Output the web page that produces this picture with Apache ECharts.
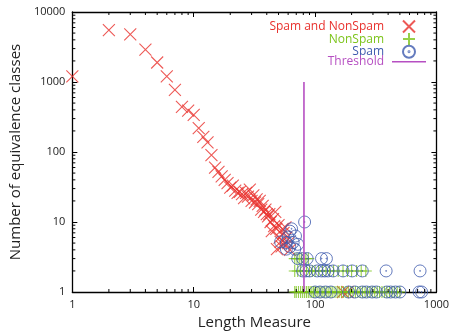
<!DOCTYPE html>
<html><head><meta charset="utf-8">
<script src="https://cdn.jsdelivr.net/npm/echarts@6/dist/echarts.min.js"></script>
<style>html,body{margin:0;padding:0;background:#fff}#c{width:452px;height:335px}</style>
</head><body><div id="c"></div>
<script>
// Spam and NonSpam (red crosses)
const bothLen = [1,2,3,4,5,6,7,8,9,10,11,12,13,14,15,16,17,18,19,20,21,22,23,24,25,26,27,28,29,30,31,32,33,34,35,36,37,38,39,40,41,42,43,44,45,46,47,48,48.5,50,51,52,53,54,55,56,57,58,60,62,170,185];
const bothCnt = [1200,5500,4800,2900,1900,1200,770,440,390,340,220,165,137,90,60,52,45,40,36,31,33,28,26,27,25,22,26,23,29,20,24,19,21,18,20,15,17,14,15,13,12,13,10,7.4,11,8.7,14,8,4.1,9,6,5.2,4.5,8,7,5,8.4,6,5,4,1,1];
// NonSpam (green plus)
const nonLen = [68,71,74,77,80,84,88,
  68,72,76,80,85,90,95,100,107,115,123,132,142,155,170,185,200,220,240,262,
  68,70,73,76,79,82,85,88,91,94,97,100,104,108,112,116,120,125,130,135,140,146,152,158,165,172,180,188,196,205,215,225,235,246,258,270,283,296,310,325,340,356,373,390,410,430,450,475,500,525];
const nonCnt = [3,3,3,3,3,3,3,
  2,2,2,2,2,2,2,2,2,2,2,2,2,2,2,2,2,2,2,2,
  1,1,1,1,1,1,1,1,1,1,1,1,1,1,1,1,1,1,1,1,1,1,1,1,1,1,1,1,1,1,1,1,1,1,1,1,1,1,1,1,1,1,1,1,1,1,1,1,1];
// Spam (blue circles)
const spamLen = [82,64,62,60,69,58,66,72,62,68,58,52,
  72,79,86,113,124,
  79,84,90,104,113,120,128,141,170,202,245,385,733,
  100,110,122,135,189,213,245,265,295,320,390,420,460,500,720,755];
const spamCnt = [10,8,7.4,6.1,6.3,5.1,5.1,4.8,4.4,4.1,4.1,5.2,
  3,3,3,3,3,
  2,2,2,2,2,2,2,2,2,2,2,2,2,
  1,1,1,1,1,1,1,1,1,1,1,1,1,1,1,1];
// Threshold
const thresholdLen = [81,81];
const thresholdCnt = [1,1000];
// Axis ticks
const xMinorTicks = [2,3,4,5,6,7,8,9,20,30,40,50,60,70,80,90,200,300,400,500,600,700,800,900];
const yMinorTicks = [2,3,4,5,6,7,8,9,20,30,40,50,60,70,80,90,200,300,400,500,600,700,800,900,2000,3000,4000,5000,6000,7000,8000,9000];
const legendNames = ['Spam and NonSpam','NonSpam','Spam','Threshold'];

const RED = '#e8302c', GREEN = '#7cc41a', BLUE = '#3d5aae', PURPLE = '#b64fc2';
const FONT = 'Open Sans';
const zip = (a, b) => a.map((v, i) => [v, b[i]]);
const XMIN = 1, XMAX = 1000, YMIN = 1, YMAX = 10000;

const crossPath = 'path://M0,0L10,10M0,10L10,0';
const plusPath = 'path://M5,0L5,10M0,5L10,5';
const circPath = 'path://M0,5A5,5 0 1,1 10,5A5,5 0 1,1 0,5Z M4.6,5A0.4,0.4 0 1,1 5.4,5A0.4,0.4 0 1,1 4.6,5Z';
const linePath = 'path://M0,0H34V1.6H0Z';

function tickSeries(values, isX) {
  return {
    type: 'custom', silent: true, clip: false, z: 10,
    data: values.map(v => isX ? [v, YMIN] : [XMIN, v]),
    renderItem: function (params, api) {
      const v = api.value(isX ? 0 : 1);
      const a = isX ? api.coord([v, YMIN]) : api.coord([XMIN, v]);
      const b = isX ? api.coord([v, YMAX]) : api.coord([XMAX, v]);
      const L = 3, st = {stroke: '#000', lineWidth: 1};
      return {type: 'group', children: isX ? [
        {type: 'line', shape: {x1: a[0], y1: a[1], x2: a[0], y2: a[1] - L}, style: st},
        {type: 'line', shape: {x1: b[0], y1: b[1], x2: b[0], y2: b[1] + L}, style: st}
      ] : [
        {type: 'line', shape: {x1: a[0], y1: a[1], x2: a[0] + L, y2: a[1]}, style: st},
        {type: 'line', shape: {x1: b[0], y1: b[1], x2: b[0] - L, y2: b[1]}, style: st}
      ]};
    }
  };
}

const axisCommon = {
  type: 'log', logBase: 10,
  axisLine: {show: true, lineStyle: {color: '#000', width: 1.3}},
  axisTick: {show: true, inside: true, length: 5, lineStyle: {color: '#000', width: 1}},
  splitLine: {show: false}, minorTick: {show: false}
};
const plainNum = v => String(Math.round(v));

const chart = echarts.init(document.getElementById('c'), null, {renderer: 'canvas'});
chart.setOption({
  animation: false,
  backgroundColor: '#fff',
  textStyle: {fontFamily: FONT},
  grid: {left: 59, right: 12, top: 12, bottom: 42, containLabel: false},
  legend: {
    orient: 'vertical', right: 26, top: 18, align: 'right',
    itemWidth: 34, itemHeight: 12, itemGap: -4.4, padding: 0,
    textStyle: {fontFamily: FONT, fontSize: 12, lineHeight: 12, padding: [0, 3, 0, 0]},
    data: [
      {name: legendNames[0], textStyle: {color: RED}},
      {name: legendNames[1], textStyle: {color: GREEN}},
      {name: legendNames[2], textStyle: {color: BLUE}},
      {name: legendNames[3], icon: linePath, itemStyle: {color: PURPLE, borderWidth: 0}, textStyle: {color: PURPLE}}
    ],
    selectedMode: false
  },
  xAxis: [
    Object.assign({}, axisCommon, {
      position: 'bottom', min: XMIN, max: XMAX,
      name: 'Length Measure', nameLocation: 'middle', nameGap: 23,
      nameTextStyle: {fontFamily: FONT, fontSize: 15, color: '#222'},
      axisLabel: {fontFamily: FONT, fontSize: 11, color: '#222', margin: 7, formatter: plainNum}
    }),
    Object.assign({}, axisCommon, {
      position: 'top', min: XMIN, max: XMAX, axisLabel: {show: false}
    })
  ],
  yAxis: [
    Object.assign({}, axisCommon, {
      position: 'left', min: YMIN, max: YMAX,
      name: 'Number of equivalence classes', nameLocation: 'middle', nameGap: 40,
      nameTextStyle: {fontFamily: FONT, fontSize: 15, color: '#222'},
      axisLabel: {fontFamily: FONT, fontSize: 11, color: '#222', margin: 7, formatter: plainNum}
    }),
    Object.assign({}, axisCommon, {
      position: 'right', min: YMIN, max: YMAX, axisLabel: {show: false}
    })
  ],
  series: [
    {name: legendNames[0], type: 'scatter', data: zip(bothLen, bothCnt),
     symbol: crossPath, symbolSize: 12, symbolKeepAspect: true,
     itemStyle: {color: 'none', borderColor: RED, borderWidth: 1.1}},
    {name: legendNames[1], type: 'scatter', data: zip(nonLen, nonCnt),
     symbol: plusPath, symbolSize: 12, symbolKeepAspect: true,
     itemStyle: {color: 'none', borderColor: GREEN, borderWidth: 1.1}},
    {name: legendNames[2], type: 'scatter', data: zip(spamLen, spamCnt),
     symbol: circPath, symbolSize: 12, symbolKeepAspect: true,
     itemStyle: {color: 'none', borderColor: BLUE, borderWidth: 1}},
    {name: legendNames[3], type: 'line', data: zip(thresholdLen, thresholdCnt),
     symbol: 'none', lineStyle: {color: PURPLE, width: 1.6}, itemStyle: {color: PURPLE}},
    tickSeries(xMinorTicks, true),
    tickSeries(yMinorTicks, false)
  ]
});
</script></body></html>
